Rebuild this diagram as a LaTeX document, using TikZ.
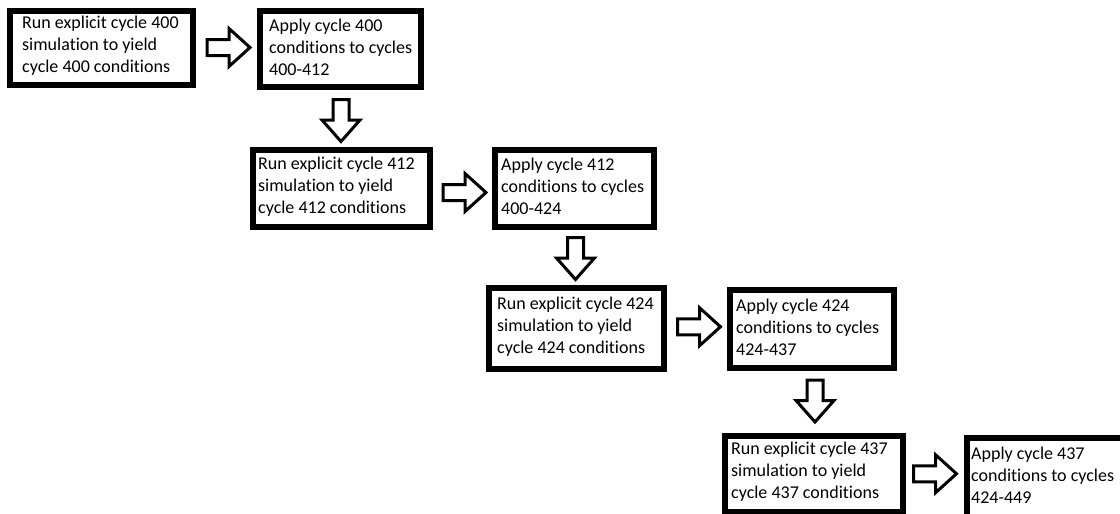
\documentclass[tikz,border=0pt]{standalone}
\usepackage{fontspec}
\setmainfont[RawFeature={-liga}]{Carlito}
\usetikzlibrary{calc}

\tikzset{
  stage/.style={draw=black, line width=6pt, fill=white, rectangle, inner sep=0pt},
  caption/.style={font=\fontsize{18}{22}\selectfont, align=left, inner sep=0pt,
                  anchor=west, text=black},
  blockline/.style={draw=black, line width=3pt, fill=white, line join=miter},
  % hollow block arrow pointing right, centred on its position
  rarrow/.pic={\path[blockline] (-21.5,-8) -- (0.5,-8) -- (0.5,-19) -- (21.5,0)
                -- (0.5,19) -- (0.5,8) -- (-21.5,8) -- cycle;},
  % hollow block arrow pointing down, centred on its position
  darrow/.pic={\path[blockline] (-8,-21) -- (8,-21) -- (8,-0.5) -- (19,-0.5)
                -- (0,21) -- (-19,-0.5) -- (-8,-0.5) -- cycle;}
}

\begin{document}
\begin{tikzpicture}[x=1pt, y=-1pt]
  \fill[white] (0,0) rectangle (1120,514);
  \useasboundingbox (0,0) rectangle (1120,514);

  % stage boxes
  \node[stage, minimum width=183pt, minimum height=74pt] (run1) at (101.5,48) {};
  \node[stage, minimum width=161pt, minimum height=76pt] (app1) at (340.5,49) {};
  \node[stage, minimum width=177pt, minimum height=77pt] (run2) at (341.5,188.5) {};
  \node[stage, minimum width=159pt, minimum height=77pt] (app2) at (574.5,188.5) {};
  \node[stage, minimum width=175pt, minimum height=81pt] (run3) at (576.5,328.5) {};
  \node[stage, minimum width=164pt, minimum height=78pt] (app3) at (812,329) {};
  \node[stage, minimum width=178pt, minimum height=76pt] (run4) at (814,474) {};
  \node[stage, minimum width=160pt, minimum height=79pt] (app4) at (1047,477.5) {};

  % box texts
  \node[caption] (run1t) at ([xshift=15pt,yshift=2pt]run1.west)
    {Run explicit cycle 400\\simulation to yield\\cycle 400 conditions};
  \node[caption] (app1t) at ([xshift=12pt,yshift=2pt]app1.west)
    {Apply cycle 400\\conditions to cycles\\400-412};
  \node[caption] (run2t) at ([xshift=8pt,yshift=2pt]run2.west)
    {Run explicit cycle 412\\simulation to yield\\cycle 412 conditions};
  \node[caption] (app2t) at ([xshift=9pt,yshift=2pt]app2.west)
    {Apply cycle 412\\conditions to cycles\\400-424};
  \node[caption] (run3t) at ([xshift=11pt,yshift=2pt]run3.west)
    {Run explicit cycle 424\\simulation to yield\\cycle 424 conditions};
  \node[caption] (app3t) at ([xshift=9pt,yshift=2pt]app3.west)
    {Apply cycle 424\\conditions to cycles\\424-437};
  \node[caption] (run4t) at ([xshift=9pt,yshift=2pt]run4.west)
    {Run explicit cycle 437\\simulation to yield\\cycle 437 conditions};
  \node[caption] (app4t) at ([xshift=7pt,yshift=2pt]app4.west)
    {Apply cycle 437\\conditions to cycles\\424-449};

  % block arrows between the stages
  \pic at ($(run1.east)!0.5!(app1.west)+(2,-1)$) {rarrow};
  \pic at ($(app1.south)!0.5!(run2.north)+(0,2)$) {darrow};
  \pic at ($(run2.east)!0.5!(app2.west)+(2,4)$) {rarrow};
  \pic at ($(app2.south)!0.5!(run3.north)+(0,1)$) {darrow};
  \pic at ($(run3.east)!0.5!(app3.west)+(2,-2)$) {rarrow};
  \pic at ($(app3.south)!0.5!(run4.north)+(2,-1)$) {darrow};
  \pic at ($(run4.east)!0.5!(app4.west)+(0,-2)$) {rarrow};
\end{tikzpicture}
\end{document}
